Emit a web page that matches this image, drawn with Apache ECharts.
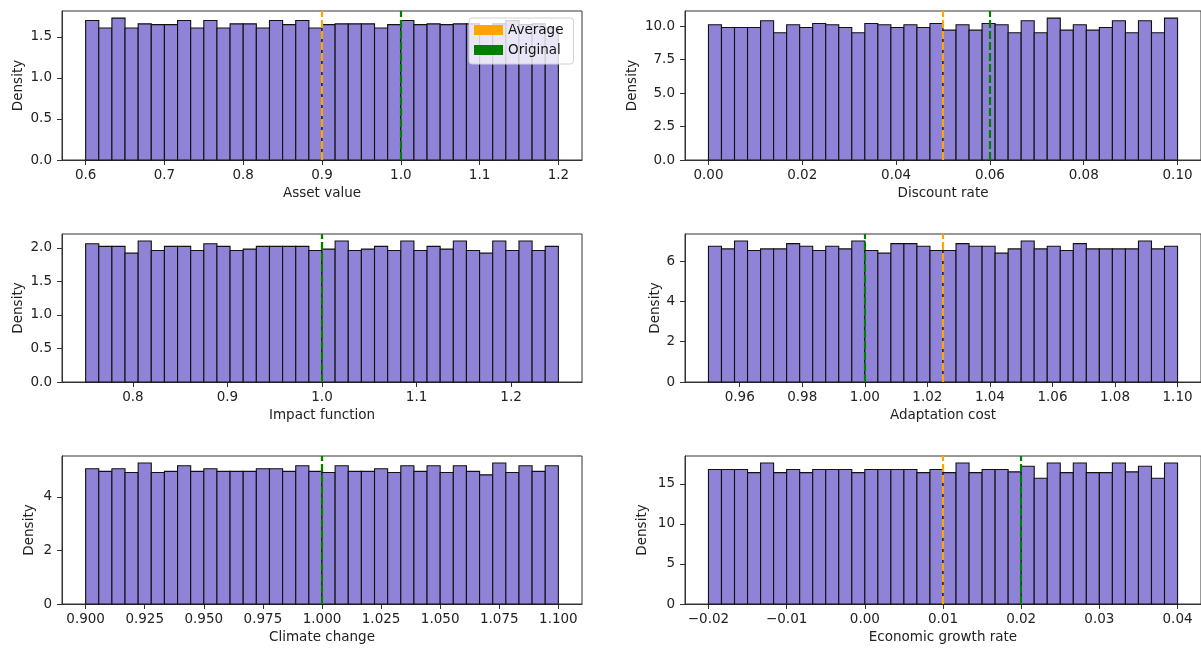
<!DOCTYPE html>
<html>
<head>
<meta charset="utf-8">
<title>Parameter sample distributions</title>
<script src="https://cdn.jsdelivr.net/npm/echarts@6/dist/echarts.min.js"></script>
<style>
  html, body { margin: 0; padding: 0; background: #ffffff; }
  #chart { width: 1201px; height: 648px; }
</style>
</head>
<body>
<div id="chart"></div>
<script>
// Histogram densities, 36 equal bins per parameter
const assetValue = [1.70, 1.61, 1.73, 1.61, 1.66, 1.65, 1.65, 1.70, 1.61, 1.70, 1.61, 1.66,
                    1.66, 1.61, 1.70, 1.65, 1.70, 1.61, 1.65, 1.66, 1.66, 1.66, 1.61, 1.65,
                    1.70, 1.65, 1.66, 1.65, 1.66, 1.66, 1.61, 1.66, 1.70, 1.65, 1.66, 1.61];
const discountRate = [10.1, 9.9, 9.9, 9.9, 10.4, 9.5, 10.1, 9.9, 10.2, 10.1, 9.9, 9.5,
                      10.2, 10.1, 9.9, 10.1, 9.9, 10.2, 9.7, 10.1, 9.7, 10.2, 10.1, 9.5,
                      10.4, 9.5, 10.6, 9.7, 10.1, 9.7, 9.9, 10.4, 9.5, 10.4, 9.5, 10.6];
const impactFunction = [2.06, 2.02, 2.02, 1.92, 2.10, 1.96, 2.02, 2.02, 1.96, 2.06, 2.02, 1.96,
                        1.98, 2.02, 2.02, 2.02, 2.02, 1.96, 1.98, 2.10, 1.96, 1.98, 2.02, 1.96,
                        2.10, 1.96, 2.02, 1.98, 2.10, 1.96, 1.92, 2.10, 1.96, 2.10, 1.96, 2.02];
const adaptationCost = [6.74, 6.61, 7.00, 6.53, 6.61, 6.61, 6.87, 6.74, 6.53, 6.74, 6.61, 7.00,
                        6.53, 6.40, 6.87, 6.87, 6.74, 6.53, 6.53, 6.87, 6.74, 6.74, 6.40, 6.61,
                        7.00, 6.61, 6.74, 6.53, 6.87, 6.61, 6.61, 6.61, 6.61, 7.00, 6.61, 6.74];
const climateChange = [5.05, 4.95, 5.05, 4.91, 5.26, 4.91, 4.95, 5.16, 4.95, 5.05, 4.95, 4.95,
                       4.95, 5.05, 5.05, 4.95, 5.16, 4.95, 4.91, 5.16, 4.95, 4.95, 5.05, 4.91,
                       5.16, 4.95, 5.16, 4.91, 5.16, 4.95, 4.82, 5.26, 4.91, 5.16, 4.95, 5.16];
const growthRate = [16.8, 16.8, 16.8, 16.4, 17.6, 16.4, 16.8, 16.4, 16.8, 16.8, 16.8, 16.4,
                    16.8, 16.8, 16.8, 16.8, 16.4, 16.8, 16.4, 17.6, 16.4, 16.8, 16.8, 16.5,
                    17.2, 15.7, 17.6, 16.4, 17.6, 16.4, 16.4, 17.6, 16.5, 17.2, 15.7, 17.6];

// Parameter names, sampling ranges and reference values
const paramNames   = ['Asset value', 'Discount rate', 'Impact function', 'Adaptation cost', 'Climate change', 'Economic growth rate'];
const rangeLow     = [0.6, 0.00, 0.75, 0.95, 0.9, -0.02];
const rangeHigh    = [1.2, 0.10, 1.25, 1.10, 1.1, 0.04];
const averageValue = [0.9, 0.05, 1.0, 1.025, 1.0, 0.01];
const originalValue= [1.0, 0.06, 1.0, 1.0, 1.0, 0.02];

// Tick labels
const xTicks = [
  [0.6, 0.7, 0.8, 0.9, 1.0, 1.1, 1.2],
  [0.00, 0.02, 0.04, 0.06, 0.08, 0.10],
  [0.8, 0.9, 1.0, 1.1, 1.2],
  [0.96, 0.98, 1.00, 1.02, 1.04, 1.06, 1.08, 1.10],
  [0.900, 0.925, 0.950, 0.975, 1.000, 1.025, 1.050, 1.075, 1.100],
  [-0.02, -0.01, 0.00, 0.01, 0.02, 0.03, 0.04]
];
const xDecimals = [1, 2, 1, 2, 3, 2];
const yTicks = [
  [0, 0.5, 1.0, 1.5],
  [0, 2.5, 5.0, 7.5, 10.0],
  [0, 0.5, 1.0, 1.5, 2.0],
  [0, 2, 4, 6],
  [0, 2, 4],
  [0, 5, 10, 15]
];
const yDecimals = [1, 1, 1, 0, 0, 0];

const densities = [assetValue, discountRate, impactFunction, adaptationCost, climateChange, growthRate];

const FONT = 'DejaVu Sans';
const FONT_SIZE = 13.5;
const TEXT = '#222';
const SPINE = '#333';
const BAR_FILL = '#8e83d6';
const AVG_COLOR = '#ffa500';
const ORIG_COLOR = '#008000';

// 3 x 2 panel layout
const colLeft = [62, 685];
const colWidth = [520, 519];
const rowTop = [11, 234, 456];
const rowHeight = [149, 148, 148];
const yNameGap = [37, 46, 37, 23, 26, 36];

function fmt(v, d) {
  const s = Number(v).toFixed(d);
  return s.charAt(0) === '-' ? '\u2212' + s.slice(1) : s;
}

const grids = [], xAxes = [], yAxes = [], series = [];

densities.forEach((dens, i) => {
  const col = i % 2, row = Math.floor(i / 2);
  grids.push({
    left: colLeft[col], top: rowTop[row], width: colWidth[col], height: rowHeight[row],
    show: true, borderColor: SPINE, borderWidth: 1, backgroundColor: 'transparent'
  });

  const lo = rangeLow[i], hi = rangeHigh[i], span = hi - lo;
  const xd = xDecimals[i], yd = yDecimals[i];
  xAxes.push({
    type: 'value', gridIndex: i,
    min: lo - 0.05 * span, max: hi + 0.05 * span,
    name: paramNames[i], nameLocation: 'middle', nameGap: 26,
    nameTextStyle: { fontFamily: FONT, fontSize: FONT_SIZE, color: TEXT },
    splitLine: { show: false },
    axisLine: { show: true, onZero: false, lineStyle: { color: SPINE, width: 1 } },
    axisTick: { show: true, inside: false, length: 5, customValues: xTicks[i], lineStyle: { color: SPINE, width: 1 } },
    axisLabel: {
      show: true, margin: 8, customValues: xTicks[i],
      fontFamily: FONT, fontSize: FONT_SIZE, color: TEXT,
      formatter: v => fmt(v, xd)
    }
  });

  const yMax = 1.05 * Math.max(...dens);
  yAxes.push({
    type: 'value', gridIndex: i, min: 0, max: yMax,
    name: 'Density', nameLocation: 'middle', nameGap: yNameGap[i], nameRotate: 90,
    nameTextStyle: { fontFamily: FONT, fontSize: FONT_SIZE, color: TEXT },
    splitLine: { show: false },
    axisLine: { show: true, onZero: false, lineStyle: { color: SPINE, width: 1 } },
    axisTick: { show: true, inside: false, length: 5, customValues: yTicks[i], lineStyle: { color: SPINE, width: 1 } },
    axisLabel: {
      show: true, margin: 10, customValues: yTicks[i],
      fontFamily: FONT, fontSize: FONT_SIZE, color: TEXT,
      formatter: v => fmt(v, yd)
    }
  });

  const binW = span / dens.length;
  series.push({
    type: 'custom', name: paramNames[i] + ' histogram',
    xAxisIndex: i, yAxisIndex: i, silent: true, z: 2,
    data: dens.map((d, k) => [lo + k * binW, lo + (k + 1) * binW, d]),
    encode: { x: [0, 1], y: 2 },
    renderItem: (params, api) => {
      const p0 = api.coord([api.value(0), 0]);
      const p1 = api.coord([api.value(1), api.value(2)]);
      return {
        type: 'rect',
        shape: { x: p0[0], y: p1[1], width: p1[0] - p0[0], height: p0[1] - p1[1] },
        style: { fill: BAR_FILL, stroke: '#111', lineWidth: 1.1 }
      };
    }
  });

  [['Average', averageValue[i], AVG_COLOR], ['Original', originalValue[i], ORIG_COLOR]].forEach(([nm, val, colr]) => {
    series.push({
      type: 'line', name: nm, xAxisIndex: i, yAxisIndex: i, z: 3,
      color: colr, symbol: 'none', showSymbol: false,
      lineStyle: { color: colr, width: 0 },
      data: [[val, 0]],
      markLine: {
        silent: true, symbol: ['none', 'none'], animation: false,
        precision: 6,
        label: { show: false },
        lineStyle: { color: colr, width: 2.2, type: [8, 3] },
        data: [{ xAxis: val }]
      }
    });
  });
});

const chart = echarts.init(document.getElementById('chart'), null, { renderer: 'canvas' });
chart.setOption({
  animation: false,
  backgroundColor: '#ffffff',
  grid: grids,
  xAxis: xAxes,
  yAxis: yAxes,
  legend: {
    z: 10,
    left: 469, top: 18,
    orient: 'vertical',
    backgroundColor: 'rgba(255,255,255,0.8)',
    borderColor: '#d0d0d0', borderWidth: 1, borderRadius: 3,
    padding: [4, 10, 6, 5],
    itemWidth: 29, itemHeight: 10, itemGap: 4,
    selectedMode: false,
    textStyle: { fontFamily: FONT, fontSize: FONT_SIZE, color: '#111', lineHeight: 16 },
    data: [
      { name: 'Average', icon: 'rect', itemStyle: { color: AVG_COLOR } },
      { name: 'Original', icon: 'rect', itemStyle: { color: ORIG_COLOR } }
    ]
  },
  series: series
});
</script>
</body>
</html>
